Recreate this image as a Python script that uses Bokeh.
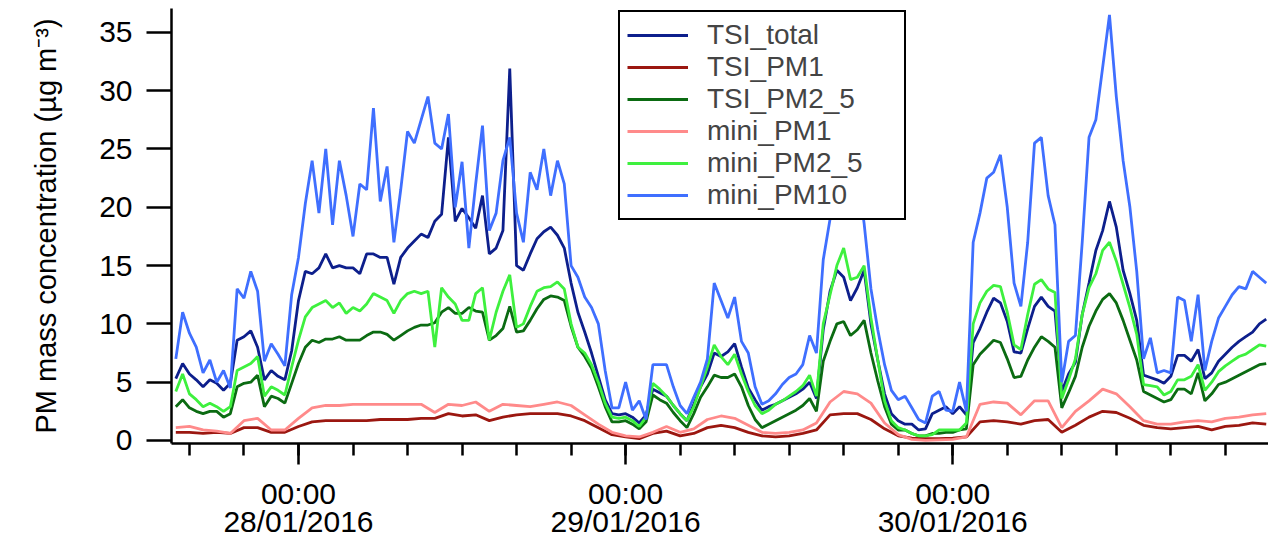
import numpy as np
import pandas as pd
from bokeh.plotting import figure
from bokeh.models import Range1d, FixedTicker, DatetimeTickFormatter
from bokeh.embed import file_html
from bokeh.resources import INLINE

# ---- time bases (sampling grids) ----
START = pd.Timestamp("2016-01-27 15:00")
t_half = START + pd.to_timedelta(np.arange(161) * 0.5, unit="h")   # 30-min samples
t_hour = START + pd.to_timedelta(np.arange(81) * 1.0, unit="h")    # hourly samples

# ---- series (µg m-3) ----
TSI_total = [
    5.3, 6.6, 5.7, 5.2, 4.6, 5.2, 4.9, 4.3, 4.9,
    8.6, 8.9, 9.4, 8.0, 5.2, 6.0, 5.5, 5.2, 7.7,
    12.0, 14.5, 14.3, 14.8, 16.0, 14.8, 15.0, 14.8, 14.8,
    14.3, 16.0, 16.0, 15.7, 15.7, 13.4, 15.7, 16.5, 17.1,
    17.7, 17.4, 18.8, 19.4, 26.0, 18.8, 19.9, 19.1, 18.2,
    21.0, 16.0, 16.5, 18.0, 31.9, 15.0, 14.6, 16.0, 17.3,
    17.9, 18.3, 17.6, 16.5, 13.5, 11.0, 9.3, 7.5, 5.5,
    3.5, 2.3, 2.2,
    2.3, 2.0, 1.5, 2.2, 4.4, 4.1, 3.8, 3.0, 2.3,
    1.7, 3.1, 4.6, 5.7, 7.5, 7.2, 7.6, 8.3, 6.3,
    4.5, 3.5, 2.6, 2.9, 3.1, 3.4, 3.7, 4.0, 4.4,
    5.0, 3.6, 9.5, 12.8, 14.6, 14.0, 12.0, 13.1, 14.6,
    10.0, 6.9, 4.0, 2.3, 1.7, 1.4, 1.4, 0.9, 1.0,
    2.3, 2.6, 2.9, 2.3, 2.9, 2.2, 8.4, 9.6, 11.0,
    12.2, 11.8, 10.2, 7.6, 7.5, 9.6, 11.5, 12.3, 11.5,
    11.1, 4.2, 5.7, 6.7, 10.8, 13.5, 16.3, 18.0, 20.5,
    18.3, 14.6, 12.6, 10.3, 5.6, 5.4, 5.2, 4.9, 5.5,
    7.3, 7.3, 6.8, 7.8, 5.3, 5.8, 6.8, 7.4, 8.0,
    8.5, 8.9, 9.3, 10.0, 10.4,
]

TSI_PM2_5 = [
    2.9, 3.5, 2.8, 2.5, 2.3, 2.5, 2.5, 2.0, 2.3,
    4.6, 4.9, 5.0, 5.6, 2.9, 3.8, 3.6, 3.2, 4.9,
    6.6, 8.0, 8.6, 8.4, 8.7, 8.7, 8.9, 8.6, 8.6,
    8.6, 9.0, 9.3, 9.3, 9.1, 8.6, 9.0, 9.4, 9.7,
    9.9, 9.9, 10.1, 11.0, 11.4, 10.9, 10.9, 11.4, 11.1,
    11.0, 8.6, 9.0, 9.6, 11.5, 9.3, 9.4, 10.3, 11.3,
    12.1, 12.4, 12.3, 12.0, 9.8, 8.0, 7.2, 6.2, 4.6,
    2.9, 1.6, 1.6,
    1.7, 1.4, 1.0, 1.6, 3.9, 3.5, 3.2, 2.4, 1.7,
    1.1, 2.3, 3.7, 4.6, 5.6, 5.4, 5.4, 5.7, 4.6,
    3.0, 1.8, 1.1, 1.4, 1.7, 2.0, 2.3, 2.6, 3.0,
    3.6, 2.5, 6.8, 8.5, 10.0, 10.2, 9.0, 9.5, 10.3,
    7.5, 5.1, 2.9, 1.4, 0.9, 0.9, 0.6, 0.4, 0.4,
    0.6, 0.6, 0.7, 0.7, 0.9, 1.0, 6.5, 7.4, 8.0,
    8.6, 8.4, 7.0, 5.4, 5.5, 6.9, 8.0, 8.9, 8.5,
    8.0, 2.8, 4.1, 5.5, 8.0, 9.8, 11.1, 12.1, 12.6,
    11.8, 10.3, 8.6, 6.9, 4.2, 3.9, 3.6, 3.3, 3.5,
    4.4, 4.4, 4.0, 5.8, 3.4, 4.0, 4.8, 5.0, 5.3,
    5.6, 5.9, 6.2, 6.5, 6.6,
]

mini_PM2_5 = [
    4.2, 5.7, 4.0, 3.5, 2.9, 3.2, 2.9, 2.5, 2.9,
    6.0, 6.3, 6.6, 7.2, 3.8, 4.6, 4.3, 3.9, 6.3,
    8.6, 10.6, 11.4, 11.7, 12.0, 11.4, 11.8, 10.9, 11.4,
    11.1, 11.7, 12.6, 12.3, 12.0, 10.9, 12.0, 12.6, 12.8,
    12.6, 12.8, 8.0, 13.1, 12.3, 11.7, 10.3, 10.3, 12.6,
    13.1, 8.6, 11.0, 12.8, 14.2, 9.7, 10.0, 11.5, 12.8,
    13.1, 13.2, 13.6, 13.0, 10.0, 8.0, 7.5, 6.5, 5.0,
    3.2, 2.0, 1.9,
    2.0, 1.7, 1.2, 2.0, 4.9, 4.4, 3.8, 3.0, 2.3,
    1.7, 2.9, 4.6, 6.3, 8.2, 7.2, 6.5, 7.4, 5.7,
    4.2, 3.0, 2.3, 2.6, 3.1, 3.4, 3.8, 4.2, 4.7,
    5.6, 3.8, 10.0, 12.5, 15.0, 16.5, 13.8, 14.0, 15.0,
    10.5, 6.9, 3.4, 1.7, 1.1, 0.9, 0.6, 0.4, 0.4,
    0.5, 0.9, 0.9, 0.9, 0.9, 1.5, 10.0, 11.8, 12.8,
    13.3, 13.2, 11.0, 8.2, 7.8, 10.8, 13.4, 13.8, 13.0,
    12.7, 3.6, 5.2, 7.0, 10.8, 13.1, 14.3, 16.3, 17.0,
    15.4, 13.4, 11.4, 9.1, 4.8, 4.7, 4.6, 3.9, 4.2,
    5.2, 5.2, 5.5, 6.5, 4.3, 5.0, 5.9, 6.4, 6.8,
    7.2, 7.4, 7.8, 8.2, 8.1,
]

mini_PM10 = [
    7.0, 11.0, 9.2, 8.0, 5.8, 6.9, 5.0, 6.0, 4.5,
    13.0, 12.2, 14.5, 12.8, 6.8, 8.3, 7.4, 6.4, 12.5,
    15.7, 20.3, 24.0, 19.5, 25.0, 18.5, 24.0, 21.0, 17.5,
    22.0, 21.5, 28.5, 20.5, 23.5, 17.0, 21.5, 26.5, 25.5,
    27.5, 29.5, 25.5, 25.0, 28.0, 20.0, 23.9, 16.5, 22.0,
    27.0, 18.0, 19.5, 24.0, 26.0, 19.5, 17.0, 23.0, 21.5,
    25.0, 21.0, 24.0, 22.0, 15.0, 14.0, 12.3, 11.4, 10.0,
    6.0, 2.8, 2.8,
    5.0, 2.6, 3.4, 1.8, 6.5, 6.5, 6.5, 4.6, 3.0,
    2.3, 3.7, 5.0, 7.0, 13.5, 12.0, 10.5, 12.3, 8.5,
    7.5, 4.6, 3.1, 3.4, 4.0, 4.8, 5.4, 5.7, 6.5,
    9.0, 7.5, 15.5, 19.0, 22.0, 20.0, 21.5, 23.0, 18.6,
    13.0, 9.5, 6.5, 4.3, 3.5, 3.8, 2.8, 1.8, 1.5,
    3.8, 4.2, 2.6, 2.5, 5.0, 2.5, 17.0, 19.5, 22.5,
    23.0, 24.5, 20.0, 13.5, 11.5, 17.0, 25.5, 26.0, 21.0,
    18.5, 5.0, 8.5, 9.0, 17.0, 26.0, 27.5, 32.0, 36.5,
    29.5, 24.0, 20.0, 14.5, 7.0, 8.8, 5.8, 6.0, 5.8,
    12.3, 12.0, 8.5, 12.5, 6.0, 8.5, 10.5, 11.5, 12.5,
    13.2, 13.0, 14.5, 14.0, 13.5,
]

TSI_PM1 = [
    0.7, 0.7, 0.6, 0.7, 0.6, 1.1, 1.1, 0.7, 0.7,
    1.2, 1.6, 1.7, 1.7, 1.7, 1.7, 1.8, 1.8, 1.8,
    1.9, 1.9, 2.3, 2.1, 2.2, 1.7, 2.0, 2.2, 2.3,
    2.3, 2.3, 2.1, 1.7, 1.1, 0.5, 0.3, 0.15, 0.6,
    0.8, 0.4, 0.6, 1.1, 1.3, 1.1, 0.7, 0.4, 0.3,
    0.4, 0.6, 0.9, 2.2, 2.3, 2.3, 1.8, 1.0, 0.4,
    0.2, 0.15, 0.15, 0.2, 0.3, 1.6, 1.7, 1.6, 1.4,
    1.7, 1.8, 0.7, 1.3, 2.0, 2.5, 2.4, 1.9, 1.3,
    1.1, 1.0, 1.1, 1.2, 0.9, 1.2, 1.3, 1.5, 1.4,
]

mini_PM1 = [
    1.1, 1.2, 0.9, 0.8, 0.6, 1.7, 1.9, 0.9, 0.9,
    1.9, 2.8, 3.0, 3.0, 3.1, 3.1, 3.1, 3.1, 3.1,
    3.1, 2.4, 3.1, 3.0, 3.3, 2.5, 3.1, 3.0, 2.9,
    3.1, 3.3, 3.0, 2.2, 1.4, 0.7, 0.4, 0.3, 0.7,
    1.2, 0.7, 1.0, 1.8, 2.1, 1.9, 1.3, 0.7, 0.6,
    0.7, 0.9, 1.5, 3.3, 4.2, 4.0, 3.2, 1.5, 0.5,
    0.1, 0.0, 0.05, 0.1, 0.3, 3.1, 3.3, 3.2, 2.2,
    3.4, 3.4, 1.1, 2.5, 3.4, 4.4, 4.0, 2.9, 1.7,
    1.4, 1.4, 1.6, 1.7, 1.6, 1.9, 2.0, 2.2, 2.3,
]

series = [
    ("TSI_total", t_half, TSI_total, "#0d1f8c"),
    ("TSI_PM1", t_hour, TSI_PM1, "#9b1710"),
    ("TSI_PM2_5", t_half, TSI_PM2_5, "#0b6b12"),
    ("mini_PM1", t_hour, mini_PM1, "#ff8a8a"),
    ("mini_PM2_5", t_half, mini_PM2_5, "#3ef03e"),
    ("mini_PM10", t_half, mini_PM10, "#3f6fff"),
]

y_ticks = [0, 5, 10, 15, 20, 25, 30, 35]
major_days = [pd.Timestamp("2016-01-28"), pd.Timestamp("2016-01-29"), pd.Timestamp("2016-01-30")]
minor_times = pd.date_range("2016-01-27 16:00", "2016-01-30 20:00", freq="4h")

FONT = "Liberation Sans"
Y0, Y1 = -0.26, 37.05

p = figure(width=1268, height=540, x_axis_type="datetime",
           x_range=Range1d(pd.Timestamp("2016-01-27 14:41"), pd.Timestamp("2016-01-30 23:10")),
           y_range=Range1d(Y0, Y1),
           output_backend="svg", toolbar_location=None,
           min_border_left=171, min_border_right=0, min_border_top=8, min_border_bottom=97)
p.outline_line_color = None
p.xgrid.visible = False
p.ygrid.visible = False
p.background_fill_color = "white"
p.border_fill_color = "white"

for name, t, vals, col in series:
    p.line(t, vals, line_color=col, line_width=2.8, legend_label=name)

def ms(ts):
    return ts.value // 10**6

p.xaxis.ticker = FixedTicker(ticks=[ms(d) for d in major_days],
                             minor_ticks=[ms(d) for d in minor_times])
fmt = "%H:%M\n%d/%m/%Y"
p.xaxis.formatter = DatetimeTickFormatter(
    microseconds=fmt, milliseconds=fmt, seconds=fmt, minsec=fmt, minutes=fmt,
    hourmin=fmt, hours=fmt, days=fmt, months=fmt, years=fmt)
p.yaxis.ticker = FixedTicker(ticks=y_ticks, minor_ticks=[])

for ax in (p.xaxis[0], p.yaxis[0]):
    ax.axis_line_color = "black"
    ax.axis_line_width = 2.5
    ax.major_tick_line_color = "black"
    ax.major_tick_line_width = 2.5
    ax.minor_tick_line_color = "black"
    ax.minor_tick_line_width = 2.5
    ax.major_tick_in = 0
    ax.minor_tick_in = 0
    ax.major_label_text_font = FONT
    ax.major_label_text_font_size = "30px"
    ax.major_label_text_color = "black"

p.xaxis.major_tick_out = 21
p.xaxis.minor_tick_out = 12
p.xaxis.major_label_standoff = 12
p.xaxis.major_label_text_line_height = 0.85

p.yaxis.major_tick_out = 25
p.yaxis.minor_tick_out = 0
p.yaxis.major_label_standoff = 14
p.yaxis.axis_label = "PM mass concentration (µg m⁻³)"
p.yaxis.axis_label_text_font = FONT
p.yaxis.axis_label_text_font_size = "29px"
p.yaxis.axis_label_text_font_style = "normal"
p.yaxis.axis_label_text_color = "black"
p.yaxis.axis_label_standoff = 34

lg = p.legend[0]
lg.location = (447, 223)
lg.label_text_font = FONT
lg.label_text_font_size = "28px"
lg.label_height = 28
lg.glyph_height = 28
lg.glyph_width = 61
lg.padding = 7
lg.spacing = 0
lg.margin = 0
lg.label_standoff = 19
lg.label_width = 190
lg.border_line_color = "black"
lg.border_line_alpha = 1.0
lg.border_line_width = 2.5
lg.background_fill_color = "white"
lg.background_fill_alpha = 1.0

open("out.html", "w").write(file_html(p, INLINE))
